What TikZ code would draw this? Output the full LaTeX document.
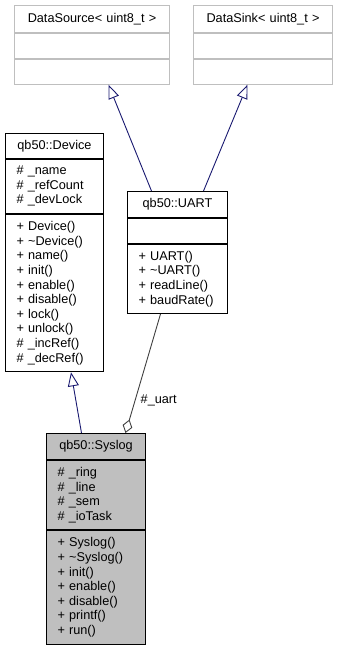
\documentclass[tikz,border=0pt]{standalone}
\usepackage{fontspec}
\setmainfont{Liberation Sans}
\usetikzlibrary{arrows.meta}

\definecolor{navyline}{RGB}{25,25,112}
\definecolor{darkline}{RGB}{64,64,64}
\definecolor{lightgray}{RGB}{191,191,191}

\begin{document}
\begin{tikzpicture}[x=1pt,y=-1pt,font=\fontsize{12.7}{14.6}\selectfont]

      \useasboundingbox (0,0) rectangle (337,648);

      \begin{scope}[every node/.style={draw, line width=1pt, anchor=north west,
          inner xsep=11pt, inner ysep=0pt},
          head/.style={align=center, minimum height=#1},
          body/.style={align=left, minimum height=#1}]
        % qb50::Syslog
        \node[head=26pt, text width=77pt, fill=lightgray] (1) at (46,433) {qb50::Syslog};
        \node[body=69pt, text width=77pt, fill=lightgray] (1a) at (1.south west)
          {\# \_ring\\\# \_line\\\# \_sem\\\# \_ioTask};
        \node[body=114pt, text width=77pt, fill=lightgray] (1b) at (1a.south west)
          {+ Syslog()\\+ \textasciitilde Syslog()\\+ init()\\+ enable()\\+ disable()\\+ printf()\\+ run()};

        % qb50::Device
        \node[head=24.6pt, text width=76pt] (2) at (5,133) {qb50::Device};
        \node[body=54.4pt, text width=76pt] (2a) at (2.south west)
          {\# \_name\\\# \_refCount\\\# \_devLock};
        \node[body=157.3pt, text width=76pt] (2b) at (2a.south west)
          {+ Device()\\+ \textasciitilde Device()\\+ name()\\+ init()\\+ enable()\\+ disable()\\+ lock()\\+ unlock()\\\# \_incRef()\\\# \_decRef()};

        % qb50::UART
        \node[head=26pt, text width=78pt] (3) at (127,191) {qb50::UART};
        \node[body=25pt, text width=78pt] (3a) at (3.south west) {};
        \node[body=69pt, text width=78pt] (3b) at (3a.south west)
          {+ UART()\\+ \textasciitilde UART()\\+ readLine()\\+ baudRate()};

        % templates
        \node[head=26.7pt, text width=133pt, draw=lightgray] (4) at (14,5) {DataSource< uint8\_t >};
        \node[body=25pt, text width=133pt, draw=lightgray] (4a) at (4.south west) {};
        \node[body=25pt, text width=133pt, draw=lightgray] (4b) at (4a.south west) {};

        \node[head=26.7pt, text width=117pt, draw=lightgray] (5) at (193,5) {DataSink< uint8\_t >};
        \node[body=25pt, text width=117pt, draw=lightgray] (5a) at (5.south west) {};
        \node[body=25pt, text width=117pt, draw=lightgray] (5b) at (5a.south west) {};
      \end{scope}

      \begin{scope}[line width=0.9pt,
          isa/.style={navyline, -{Triangle[open, length=14pt, width=11pt]}},
          has/.style={darkline, -{Diamond[open, length=14pt, width=10pt]}}]
        \draw[isa] ([xshift=-14.5pt]1.north) -- ([xshift=16.5pt]2b.south);
        \draw[isa] ([xshift=-26pt]3.north)   -- ([xshift=16.5pt]4b.south);
        \draw[isa] ([xshift=26pt]3.north)    -- ([xshift=-15.5pt]5b.south);
        \draw[has] ([xshift=-17pt]3b.south)  -- node[pos=0.73, anchor=west, xshift=2pt, text=black] {\#\_uart}
          ([xshift=29.5pt]1.north);
      \end{scope}

    \end{tikzpicture}
\end{document}
